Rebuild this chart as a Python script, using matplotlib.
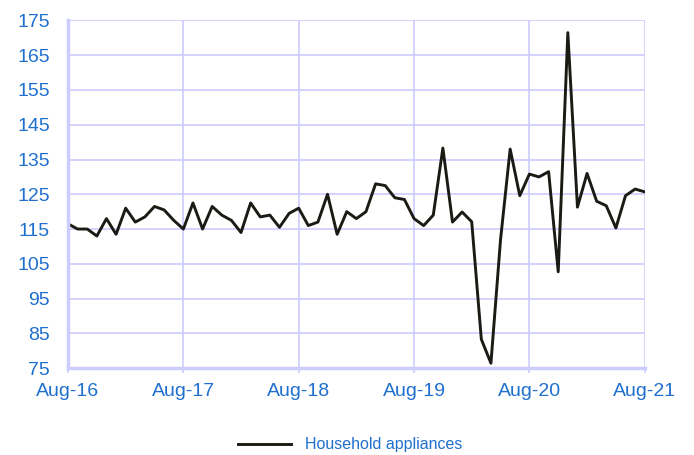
import numpy as np
import pandas as pd
import matplotlib.pyplot as plt

plt.rcParams['font.family'] = ['Liberation Sans', 'DejaVu Sans']

months = pd.date_range("2016-08-01", "2021-08-01", freq="MS")
values = [116.5, 115, 115, 113, 118, 113.5, 121, 117, 118.5, 121.5,
          120.5, 117.5, 115, 122.5, 115, 121.5, 119, 117.5, 114, 122.5,
          118.5, 119, 115.5, 119.5, 121, 116, 117, 125, 113.5, 120,
          118, 120, 128, 127.5, 124, 123.5, 118, 116, 119, 138.3,
          117, 119.9, 117.1, 83.3, 76.4, 112, 138, 124.6, 130.8, 130,
          131.5, 102.7, 171.5, 121.3, 131, 123, 121.7, 115.3, 124.6, 126.5,
          125.7]
series_name = "Household appliances"
yticks = list(range(75, 176, 10))
xtick_idx = [0, 12, 24, 36, 48, 60]
xtick_labels = ["Aug-16", "Aug-17", "Aug-18", "Aug-19", "Aug-20", "Aug-21"]

grid_col = "#ccccff"
text_col = "#1f6fce"

fig = plt.figure(figsize=(6.94, 4.55), dpi=100)
ax = fig.add_axes([0.098, 0.191, 0.831, 0.764])

x = np.arange(len(values))
ax.plot(x, values, color="#1c1a14", lw=2.1, label=series_name)

ax.set_xlim(0, 60)
ax.set_ylim(75, 175)
ax.set_yticks(yticks)
ax.set_xticks(xtick_idx)
ax.set_xticklabels(xtick_labels)
ax.grid(True, color=grid_col, lw=1.2)
ax.set_axisbelow(True)
for s in ["top", "right"]:
    ax.spines[s].set_visible(False)
for s in ["left", "bottom"]:
    ax.spines[s].set_color(grid_col)
    ax.spines[s].set_linewidth(2.5)
ax.tick_params(axis="y", length=0, pad=13, labelsize=14, labelcolor=text_col)
ax.tick_params(axis="x", length=3.5, width=1.2, color=grid_col, pad=7, labelsize=14, labelcolor=text_col)

leg = fig.legend(loc="center", bbox_to_anchor=(0.505, 0.022), frameon=False,
                 fontsize=11.5, handlelength=3.3, handletextpad=0.9)
for t in leg.get_texts():
    t.set_color(text_col)

fig.savefig("out.png", dpi=100)
